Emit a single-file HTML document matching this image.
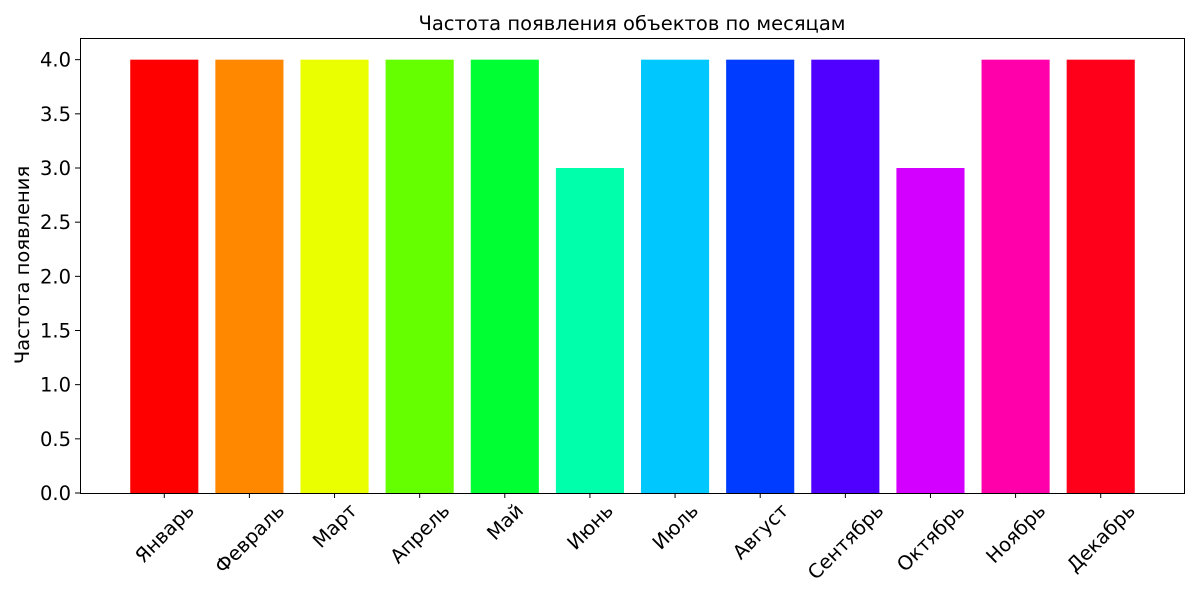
<!DOCTYPE html>
<html><head><meta charset="utf-8"><style>body{margin:0;background:#fff}svg{display:block;font-family:"DejaVu Sans","Liberation Sans",sans-serif}</style></head>
<body>
<svg id="chart" width="1200" height="600">
<rect x="0" y="0" width="1200" height="600" fill="#fff"/>
<text x="632" y="30" font-size="19.5" text-anchor="middle">Частота появления объектов по месяцам</text>
<text transform="translate(29,265) rotate(-90)" font-size="19.5" text-anchor="middle">Частота появления</text>
<g id="bars"></g><g id="yticks"></g><g id="xticks"></g>
<rect x="80.5" y="38.5" width="1104" height="455" fill="none" stroke="#000" stroke-width="1"/>
</svg>
<script>
const categories=["Январь","Февраль","Март","Апрель","Май","Июнь","Июль","Август","Сентябрь","Октябрь","Ноябрь","Декабрь"];
const values=[4,4,4,4,4,3,4,4,4,3,4,4];
const colors=["#ff0000","#ff8800","#eaff00","#66ff00","#00ff33","#00ffaa","#00c8ff","#003cff","#5000ff","#d400ff","#ff00aa","#ff001a"];
const yTickLabels=["0.0","0.5","1.0","1.5","2.0","2.5","3.0","3.5","4.0"];
const yTickValues=[0,0.5,1,1.5,2,2.5,3,3.5,4];
const NS="http://www.w3.org/2000/svg";
const L=80,R=1185,T=38,B=493,xmin=-0.99,xmax=11.99,ymax=4.2;
const xs=v=>L+(v-xmin)/(xmax-xmin)*(R-L);
const ys=v=>B-v/ymax*(B-T);
const bars=document.getElementById('bars'),yt=document.getElementById('yticks'),xt=document.getElementById('xticks');
categories.forEach((c,i)=>{
 const r=document.createElementNS(NS,'rect');
 r.setAttribute('x',xs(i-0.4));r.setAttribute('width',xs(i+0.4)-xs(i-0.4));
 r.setAttribute('y',ys(values[i]));r.setAttribute('height',ys(0)-ys(values[i]));
 r.setAttribute('fill',colors[i]);
 
 
 bars.appendChild(r);
 const tk=document.createElementNS(NS,'line');
 tk.setAttribute('x1',xs(i));tk.setAttribute('x2',xs(i));tk.setAttribute('y1',B);tk.setAttribute('y2',B+5);tk.setAttribute('stroke','#000');
 
 
 xt.appendChild(tk);
 const t=document.createElementNS(NS,'text');
 t.textContent=c;t.setAttribute('font-size','19.5');t.setAttribute('text-anchor','middle');
 
 
 xt.appendChild(t);
 const w=t.getComputedTextLength();
 const h=(w+14)*0.7071;
 const cy=B+5+4+h/2;
 t.setAttribute('transform','translate('+xs(i)+','+cy+') rotate(-45) translate(0,7)');
});
yTickValues.forEach((v,i)=>{
 const tk=document.createElementNS(NS,'line');
 tk.setAttribute('x1',L-5);tk.setAttribute('x2',L);tk.setAttribute('y1',ys(v));tk.setAttribute('y2',ys(v));tk.setAttribute('stroke','#000');
 
 
 yt.appendChild(tk);
 const t=document.createElementNS(NS,'text');
 t.textContent=yTickLabels[i];t.setAttribute('x',L-9);t.setAttribute('y',ys(v)+7);
 t.setAttribute('font-size','19.5');t.setAttribute('text-anchor','end');
 
 
 yt.appendChild(t);
});
</script>
</body></html>
